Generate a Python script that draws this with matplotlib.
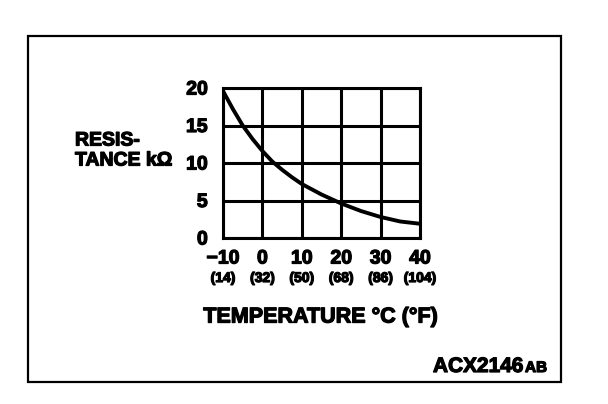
import matplotlib
matplotlib.use('Agg')
import matplotlib.pyplot as plt
import matplotlib.patheffects as pe
from matplotlib.patches import Rectangle
from matplotlib.transforms import blended_transform_factory

# curve
temp_c = [-10, -7.5, -5, -2.5, 0, 2.5, 5, 7.5, 10, 15, 20, 25, 30, 35, 40]
resistance = [19.6, 17.2, 15.0, 13.2, 11.6, 10.2, 9.1, 8.1, 7.2, 5.8, 4.6, 3.6, 2.8, 2.2, 1.9]

x_ticks = [-10, 0, 10, 20, 30, 40]
x_labels = ['\u221210', '0', '10', '20', '30', '40']
f_labels = ['(14)', '(32)', '(50)', '(68)', '(86)', '(104)']
y_ticks = [0, 5, 10, 15, 20]

plt.rcParams['font.family'] = ['Liberation Sans', 'DejaVu Sans']
plt.rcParams['font.weight'] = 'bold'

# thicker strokes, like the scanned print
heavy = [pe.withStroke(linewidth=0.9, foreground='black')]

fig = plt.figure(figsize=(6.08, 4.04), dpi=100)
fig.patch.set_facecolor('white')

# outer frame of the figure
fig.patches.append(Rectangle((28 / 608, 1 - 382 / 404), 533 / 608, 346 / 404,
                             transform=fig.transFigure, fill=False,
                             edgecolor='black', linewidth=1.6))

ax = fig.add_axes([223 / 608, 1 - 238 / 404, 197 / 608, 150 / 404])
ax.plot(temp_c, resistance, color='black', linewidth=2.8, solid_capstyle='butt', zorder=3)
ax.set_xlim(-10, 40)
ax.set_ylim(0, 20)

ax.set_xticks(x_ticks)
ax.set_xticklabels([])
ax.set_yticks(y_ticks)
ax.set_yticklabels([str(v) for v in y_ticks], fontsize=14, fontweight='bold')
for lab in ax.get_yticklabels():
    lab.set_path_effects(heavy)
ax.tick_params(length=0, pad=11)
ax.grid(True, color='black', linewidth=2.2)
ax.set_axisbelow(True)
for s in ax.spines.values():
    s.set_linewidth(2.2)

# two rows of x labels: Celsius and Fahrenheit
tr = blended_transform_factory(ax.transData, fig.transFigure)
for t, lc, lf in zip(x_ticks, x_labels, f_labels):
    ax.text(t, 1 - 259 / 404, lc, transform=tr, ha='center', va='center',
            fontsize=14, fontweight='bold', path_effects=heavy)
    ax.text(t, 1 - 278 / 404, lf, transform=tr, ha='center', va='center',
            fontsize=10, fontweight='bold', path_effects=heavy)

fig.text(320 / 608, 1 - 317 / 404, 'TEMPERATURE °C (°F)', ha='center', va='center',
         fontsize=15.5, fontweight='bold', path_effects=heavy)
fig.text(75 / 608, 1 - 141 / 404, 'RESIS-', ha='left', va='center',
         fontsize=14, fontweight='bold', path_effects=heavy)
fig.text(75 / 608, 1 - 161 / 404, 'TANCE k\u03a9', ha='left', va='center',
         fontsize=14, fontweight='bold', path_effects=heavy)

fig.text(433 / 608, 1 - 372 / 404, 'ACX2146', ha='left', va='baseline',
         fontsize=15, fontweight='bold', path_effects=heavy)
fig.text(525 / 608, 1 - 372 / 404, 'AB', ha='left', va='baseline',
         fontsize=11, fontweight='bold', path_effects=heavy)

fig.savefig('out.png', dpi=100, facecolor='white')
